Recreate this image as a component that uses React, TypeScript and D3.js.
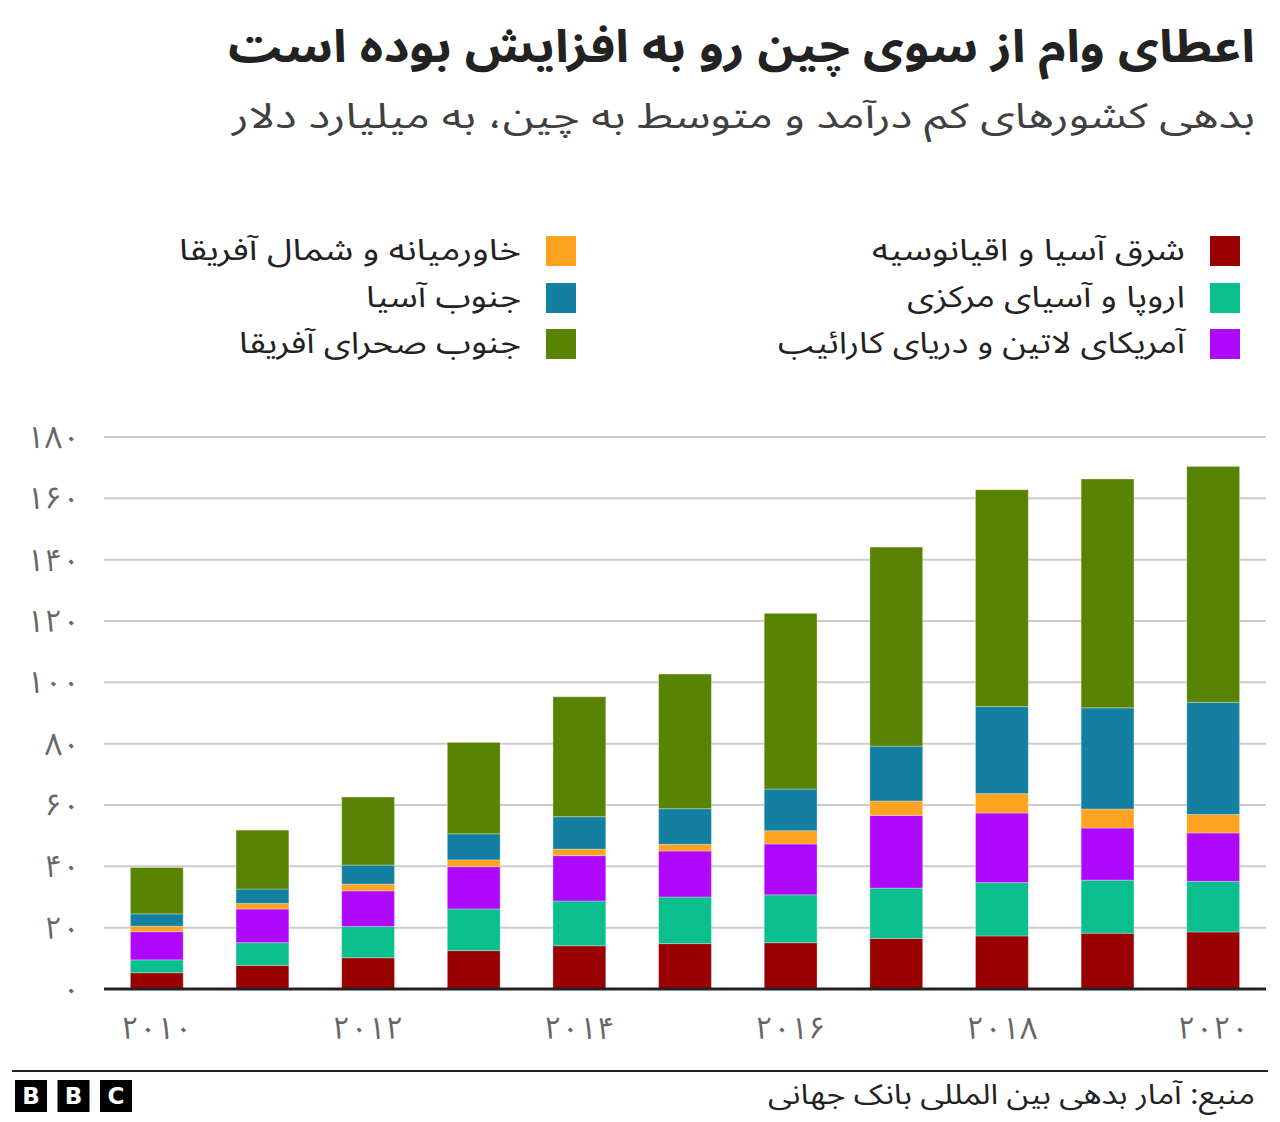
import React from "react";
import * as d3 from "d3";

const years = [2010, 2011, 2012, 2013, 2014, 2015, 2016, 2017, 2018, 2019, 2020];
const eastAsia = [5.3, 7.7, 10.2, 12.5, 14.1, 14.8, 15.1, 16.5, 17.3, 18.2, 18.6];
const europeCA = [4.2, 7.4, 10.2, 13.6, 14.6, 15.2, 15.6, 16.4, 17.4, 17.3, 16.5];
const latam = [9.2, 11.0, 11.6, 13.8, 14.8, 15.0, 16.6, 23.7, 22.7, 17.0, 15.8];
const mena = [1.8, 1.8, 2.2, 2.2, 2.1, 2.2, 4.3, 4.7, 6.3, 6.2, 6.0];
const southAsia = [4.0, 4.7, 6.2, 8.5, 10.6, 11.6, 13.6, 17.9, 28.4, 33.0, 36.6];
const ssa = [15.1, 19.2, 22.2, 29.8, 39.1, 43.9, 57.3, 64.9, 70.7, 74.6, 76.9];

const seriesKeys = ["eastAsia", "europeCA", "latam", "mena", "southAsia", "ssa"];
const seriesNames = [
  "شرق آسیا و اقیانوسیه",
  "اروپا و آسیای مرکزی",
  "آمریکای لاتین و دریای کارائیب",
  "خاورمیانه و شمال آفریقا",
  "جنوب آسیا",
  "جنوب صحرای آفریقا",
];
const legendWidths = [313, 278, 407, 342, 155, 282];
const seriesColors = ["#990000", "#0abf8e", "#ae09fd", "#fea21f", "#1380a1", "#588300"];
const yTicks = [0, 20, 40, 60, 80, 100, 120, 140, 160, 180];
const xTickYears = [2010, 2012, 2014, 2016, 2018, 2020];

const title = "اعطای وام از سوی چین رو به افزایش بوده است";
const subtitle = "بدهی کشورهای کم درآمد و متوسط به چین، به میلیارد دلار";
const source = "منبع: آمار بدهی بین المللی بانک جهانی";

const FONT = "'Noto Sans Arabic', 'DejaVu Sans', sans-serif";
const faDigits = "۰۱۲۳۴۵۶۷۸۹";
const toFa = (n: number) => String(n).replace(/[0-9]/g, (d) => faDigits[+d]);

export default function App() {
  const W = 1280;
  const H = 1122;
  const rows = years.map((y, i) => ({
    year: y,
    eastAsia: eastAsia[i],
    europeCA: europeCA[i],
    latam: latam[i],
    mena: mena[i],
    southAsia: southAsia[i],
    ssa: ssa[i],
  }));
  const stack = d3.stack<any>().keys(seriesKeys)(rows);
  const x = d3
    .scaleBand<number>()
    .domain(years)
    .range([104, 1266])
    .paddingInner(0.5)
    .paddingOuter(0.25);
  const y = d3.scaleLinear().domain([0, 180]).range([989, 437]);

  const legendRight = [0, 1, 2];
  const legendLeft = [3, 4, 5];
  const legendY = [251, 298, 344];

  return (
    <svg
      width={W}
      height={H}
      style={{ position: "absolute", left: 0, top: 0, background: "#fff" }}
      fontFamily={FONT}
    >
      <text
        x={1255}
        y={62}
        textAnchor="end"
        fontSize={45}
        fontWeight="bold"
        fill="#222"
        textLength={1027}
        lengthAdjust="spacingAndGlyphs"
      >
        {title}
      </text>
      <text
        x={1255}
        y={128}
        textAnchor="end"
        fontSize={35}
        fill="#404040"
        textLength={1023}
        lengthAdjust="spacingAndGlyphs"
      >
        {subtitle}
      </text>

      {legendRight.map((s, i) => (
        <g key={"lr" + s}>
          <rect x={1210} y={legendY[i] - 15} width={30} height={30} fill={seriesColors[s]} />
          <text
            x={1185}
            y={legendY[i]}
            dy="0.3em"
            textAnchor="end"
            fontSize={30}
            fill="#222"
            textLength={legendWidths[s]}
            lengthAdjust="spacingAndGlyphs"
          >
            {seriesNames[s]}
          </text>
        </g>
      ))}
      {legendLeft.map((s, i) => (
        <g key={"ll" + s}>
          <rect x={546} y={legendY[i] - 15} width={30} height={30} fill={seriesColors[s]} />
          <text
            x={521}
            y={legendY[i]}
            dy="0.3em"
            textAnchor="end"
            fontSize={30}
            fill="#222"
            textLength={legendWidths[s]}
            lengthAdjust="spacingAndGlyphs"
          >
            {seriesNames[s]}
          </text>
        </g>
      ))}

      {yTicks.map((t) => (
        <g key={"yt" + t}>
          {t > 0 && (
            <line x1={104} x2={1266} y1={y(t)} y2={y(t)} stroke="#cccccc" strokeWidth={2} />
          )}
          <text x={80} y={y(t)} dy="0.35em" textAnchor="end" fontSize={31} fill="#666">
            {toFa(t)}
          </text>
        </g>
      ))}

      {stack.map((layer, si) => (
        <g key={"s" + si} fill={seriesColors[si]}>
          {layer.map((d: any, i: number) => (
            <rect
              key={i}
              x={x(years[i])}
              width={x.bandwidth()}
              y={y(d[1])}
              height={y(d[0]) - y(d[1])}
              stroke="rgba(255,255,255,0.3)"
              strokeWidth={1}
            />
          ))}
        </g>
      ))}

      <line x1={104} x2={1266} y1={989} y2={989} stroke="#222" strokeWidth={3} />

      {xTickYears.map((yr) => (
        <text
          key={"xt" + yr}
          x={(x(yr) as number) + x.bandwidth() / 2}
          y={1028}
          dy="0.35em"
          textAnchor="middle"
          fontSize={31}
          fill="#666"
        >
          {toFa(yr)}
        </text>
      ))}

      <line x1={12} x2={1268} y1={1071} y2={1071} stroke="#222" strokeWidth={2} />
      {["B", "B", "C"].map((c, i) => (
        <g key={"bbc" + i}>
          <rect x={15 + i * 42.5} y={1080} width={32} height={32} fill="#000" />
          <text
            x={31 + i * 42.5}
            y={1096}
            dy="0.36em"
            textAnchor="middle"
            fontSize={23}
            fontWeight="bold"
            fontFamily="'DejaVu Sans', sans-serif"
            fill="#fff"
          >
            {c}
          </text>
        </g>
      ))}
      <text
        x={1255}
        y={1094}
        dy="0.35em"
        textAnchor="end"
        fontSize={28}
        fill="#222"
        textLength={487}
        lengthAdjust="spacingAndGlyphs"
      >
        {source}
      </text>
    </svg>
  );
}
